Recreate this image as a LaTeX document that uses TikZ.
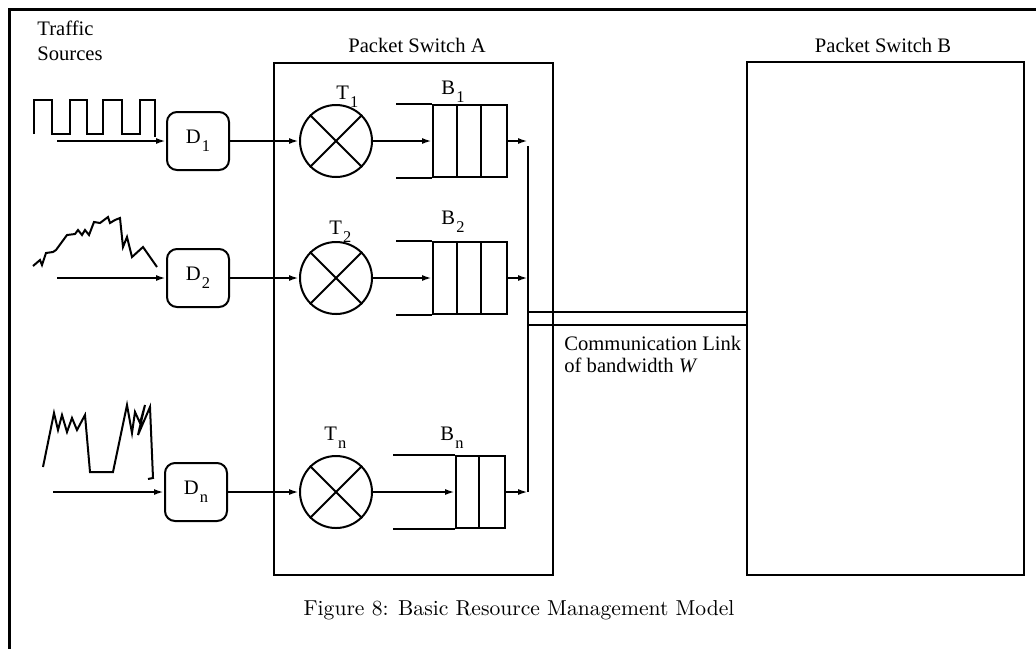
\documentclass[tikz,border=0pt]{standalone}
\usepackage{fontspec}
\newfontfamily\labelfont{Liberation Serif}
\newcommand\lowsub[1]{\kern0.6pt\raisebox{-4pt}{\fontsize{8.2}{9}\selectfont #1}}
\usepackage{tikz}
\usetikzlibrary{arrows.meta,calc}

\begin{document}
\begin{tikzpicture}[x=0.5pt, y=-0.5pt,
  lbl/.style={font=\labelfont\fontsize{10.3}{12.5}\selectfont, inner sep=1pt},
  ln/.style={line width=1pt},
  arr/.style={line width=1pt, -{Latex[length=5pt,width=3pt]}},
  frame/.style={line width=1.5pt},
  wave/.style={line width=1pt, line join=miter},
  dbox/.style={draw, line width=1pt, rounded corners=5pt, minimum width=31pt, minimum height=29pt, inner sep=0pt, font=\labelfont\fontsize{10.3}{12.5}\selectfont},
  tcirc/.style={draw, circle, line width=1pt, minimum size=36pt, inner sep=0pt},
  bufbox/.style={draw, line width=1pt, minimum height=36pt, inner sep=0pt},
  swbox/.style={draw, line width=1.2pt, inner sep=0pt}
]
\useasboundingbox (0,0) rectangle (1036,649);

% outer frame
\draw[frame] (1036,9) -- (9,9) -- (9,649);

\node[lbl, align=left, anchor=north west] (src) at (35,19) {Traffic\\Sources};

% switches
\node[swbox, minimum width=139.5pt, minimum height=256pt] (swA) at (413.5,319) {};
\node[swbox, minimum width=138.5pt, minimum height=256.5pt] (swB) at (885.5,318.5) {};
\node[lbl] (titA) at (417,45) {Packet Switch A};
\node[lbl] (titB) at (883,45) {Packet Switch B};

% sources
\draw[wave] (34,134) -- (34,100) -- (52,100) -- (52,134) -- (70,134) -- (70,100) -- (87,100) -- (87,134) -- (103,134) -- (103,100) -- (122,100) -- (122,134) -- (140,134) -- (140,100) -- (155,100) -- (155,137);
\draw[wave] (33,266) -- (40,260) -- (42,265) -- (46,253) -- (53,252) -- (56,250) -- (67,235) -- (75,234) -- (78,230) -- (82,235) -- (85,230) -- (89,235) -- (94,222) -- (100,223) -- (108,217) -- (110,223) -- (115,220) -- (120,218) -- (123,247) -- (127,237) -- (132,257) -- (143,247) -- (157,267);
\draw[wave] (43,467) -- (54,413) -- (58,430) -- (62,415) -- (67,432) -- (72,418) -- (77,430) -- (85,415) -- (90,472) -- (113,472) -- (127,405) -- (132,433) -- (135,412) -- (140,423) -- (145,405) -- (138,435) -- (150,407) -- (153,478) -- (148,479);

\coordinate (s1) at (57,141);
\coordinate (s2) at (57,278);
\coordinate (sn) at (53,492);

% delay boxes
\node[dbox] (d1) at (198,141) {D\lowsub{1}};
\node[dbox] (d2) at (198,278) {D\lowsub{2}};
\node[dbox] (dn) at (196,492) {D\lowsub{n}};

% traffic shapers
\node[tcirc] (t1) at (336,141) {};
\node[tcirc] (t2) at (336,278) {};
\node[tcirc] (tn) at (336,492) {};
\draw[ln] (t1.north west) -- (t1.south east);
\draw[ln] (t1.north east) -- (t1.south west);
\draw[ln] (t2.north west) -- (t2.south east);
\draw[ln] (t2.north east) -- (t2.south west);
\draw[ln] (tn.north west) -- (tn.south east);
\draw[ln] (tn.north east) -- (tn.south west);
\node[lbl, anchor=base west] (lt1) at (334,99) {T\lowsub{1}};
\node[lbl, anchor=base west] (lt2) at (327,234) {T\lowsub{2}};
\node[lbl, anchor=base west] (ltn) at (322,440) {T\lowsub{n}};

% buffers
\node[bufbox, minimum width=37pt] (b1) at (470,141) {};
\node[bufbox, minimum width=37pt] (b2) at (470,278) {};
\node[bufbox, minimum width=24.5pt] (bn) at (480.5,492) {};
\draw[ln] (b1.north west) -- ++(-36,0);
\draw[ln] (b1.south west) -- ++(-36,0);
\draw[ln] ($(b1.north west)+(25,0)$) -- ($(b1.south west)+(25,0)$);
\draw[ln] ($(b1.north west)+(49,0)$) -- ($(b1.south west)+(49,0)$);
\draw[ln] (b2.north west) -- ++(-36,0);
\draw[ln] (b2.south west) -- ++(-36,0);
\draw[ln] ($(b2.north west)+(25,0)$) -- ($(b2.south west)+(25,0)$);
\draw[ln] ($(b2.north west)+(49,0)$) -- ($(b2.south west)+(49,0)$);
\draw[ln] (bn.north west) -- ++(-62,0);
\draw[ln] (bn.south west) -- ++(-62,0);
\draw[ln] ($(bn.north west)+(24,0)$) -- ($(bn.south west)+(24,0)$);
\node[lbl, anchor=base west] (lb1) at (439,94) {B\lowsub{1}};
\node[lbl, anchor=base west] (lb2) at (439,224) {B\lowsub{2}};
\node[lbl, anchor=base west] (lbn) at (438,440) {B\lowsub{n}};

% connections
\draw[arr] (s1) -- (d1);
\draw[arr] (s2) -- (d2);
\draw[arr] (sn) -- (dn);
\draw[arr] (d1) -- (t1);
\draw[arr] (d2) -- (t2);
\draw[arr] (dn) -- (tn);
\draw[arr] (t1) -- (b1);
\draw[arr] (t2) -- (b2);
\draw[arr] (tn) -- (bn);

\coordinate (j1) at (528,141);
\coordinate (j2) at (528,278);
\coordinate (jn) at (528,492);
\draw[arr] (b1) -- (j1);
\draw[arr] (b2) -- (j2);
\draw[arr] (bn) -- (jn);
\draw[ln] ($(j1)+(0,5)$) -- (jn);

% link
\coordinate (l1) at (528,312);
\coordinate (l2) at (528,325);
\draw[ln] (l1) -- (l1 -| swB.west);
\draw[ln] (l2) -- (l2 -| swB.west);
\node[lbl, align=left, anchor=north west, font=\labelfont\fontsize{10.3}{11}\selectfont] (link) at (562,334) {Communication Link\\of bandwidth \textit{W}};

\node[font=\fontsize{10.8}{13}\selectfont] (cap) at (519,610) {Figure 8: Basic Resource Management Model};

\end{tikzpicture}
\end{document}
